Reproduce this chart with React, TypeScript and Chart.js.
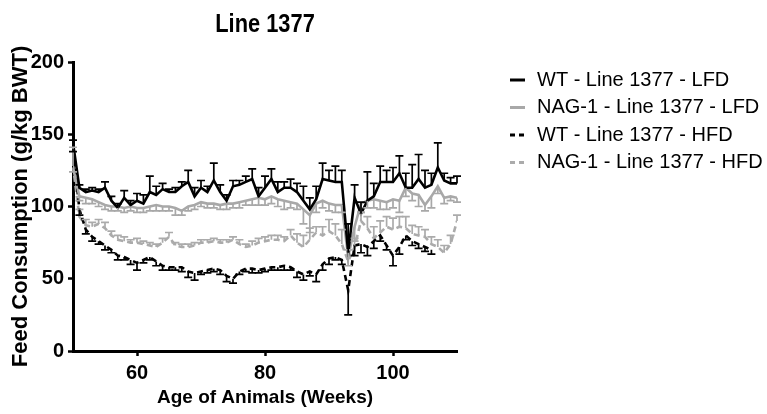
import React, { useEffect, useRef } from "react";
import { Chart, registerables } from "chart.js";

Chart.register(...registerables);

const FONT = "'Liberation Sans', Arial, Helvetica, sans-serif";

const chartTitle = "Line 1377";
const xAxisTitle = "Age of Animals (Weeks)";
const yAxisTitle = "Feed Consumption (g/kg BWT)";

const weeks = [
  50, 51, 52, 53, 54, 55, 56, 57, 58, 59,
  60, 61, 62, 63, 64, 65, 66, 67, 68, 69,
  70, 71, 72, 73, 74, 75, 76, 77, 78, 79,
  80, 81, 82, 83, 84, 85, 86, 87, 88, 89,
  90, 91, 92, 93, 94, 95, 96, 97, 98, 99,
  100, 101, 102, 103, 104, 105, 106, 107, 108, 109,
  110,
];

const xTicks = [60, 80, 100];
const yTicks = [0, 50, 100, 150, 200];

const seriesLabels = [
  "WT - Line 1377 - LFD",
  "NAG-1 - Line 1377 - LFD",
  "WT - Line 1377 - HFD",
  "NAG-1 - Line 1377 - HFD",
];

// WT - LFD (black solid), error bars upward
const wtLfd = [
  144, 113, 110, 111, 110, 113, 104, 99, 106, 101,
  104, 102, 110, 108, 112, 110, 110, 114, 117, 107,
  113, 110, 118, 110, 104, 114, 115, 117, 119, 107,
  113, 119, 110, 113, 113, 110, 104, 98, 105, 119,
  118, 117, 117, 68, 106, 95, 104, 107, 117, 117,
  117, 123, 113, 113, 119, 113, 115, 127, 118, 116,
  116,
];
const wtLfdErr = [
  2, 2, 2, 2, 2, 4, 3, 3, 5, 3,
  5, 6, 11, 6, 4, 2, 3, 3, 8, 6,
  5, 4, 12, 5, 4, 4, 3, 4, 7, 6,
  8, 7, 7, 4, 6, 6, 10, 8, 9, 11,
  7, 11, 8, 20, 9, 8, 20, 9, 11, 8,
  10, 12, 10, 16, 17, 12, 8, 17, 5, 4,
  5,
];

// NAG-1 - LFD (gray solid), error bars downward
const nagLfd = [
  127, 107, 106, 105, 103, 101, 100, 100, 99, 100,
  99, 99, 100, 101, 100, 100, 99, 97, 100, 101,
  103, 102, 102, 101, 102, 102, 103, 104, 105, 106,
  105, 107, 105, 104, 103, 102, 98, 94, 102, 104,
  102, 101, 101, 65, 86, 102, 104, 105, 104, 103,
  105, 104, 113, 109, 108, 101, 107, 114, 106, 107,
  106,
];
const nagLfdErr = [
  3, 3, 4, 3, 3, 3, 3, 3, 3, 3,
  3, 3, 3, 4, 3, 3, 5, 3, 3, 3,
  3, 3, 3, 3, 4, 3, 4, 3, 4, 5,
  4, 5, 5, 6, 4, 4, 10, 12, 6, 5,
  5, 5, 5, 6, 10, 6, 5, 6, 6, 5,
  6, 8, 6, 5, 8, 4, 8, 5, 4, 3,
  3,
];

// WT - HFD (black dashed), error bars downward
const wtHfd = [
  140, 98, 84, 79, 76, 73, 70, 66, 65, 63,
  61, 63, 65, 62, 59, 58, 58, 58, 55, 54,
  55, 56, 57, 56, 52, 50, 55, 57, 57, 56,
  57, 58, 58, 59, 58, 55, 53, 55, 53, 60,
  64, 65, 63, 42, 73, 74, 72, 76, 80, 73,
  66, 72, 80, 76, 74, 72, 70, null, null, null,
  null,
];
const wtHfdErr = [
  2, 4, 3, 3, 2, 3, 2, 3, 2, 3,
  5, 2, 2, 3, 3, 2, 2, 3, 4, 5,
  2, 2, 2, 3, 4, 3, 2, 2, 3, 2,
  2, 2, 2, 3, 2, 4, 4, 3, 5, 4,
  4, 2, 3, 17, 7, 6, 6, 5, 4, 3,
  7, 5, 3, 3, 3, 3, 3, null, null, null,
  null,
];

// NAG-1 - HFD (gray dashed), error bars upward
const nagHfd = [
  128, 93, 87, 86, 88, 85, 80, 77, 76, 75,
  75, 74, 73, 72, 75, 79, 73, 72, 72, 73,
  75, 75, 76, 75, 75, 77, 74, 72, 73, 75,
  76, 77, 77, 76, 80, 75, 72, 77, 82, 80,
  83, 80, 74, 62, 72, 90, 85, 78, 82, 86,
  84, 86, 85, 81, 80, 79, 74, 72, 68, 74,
  90,
];
const nagHfdErr = [
  13, 5, 4, 3, 3, 4, 3, 3, 3, 2,
  3, 2, 2, 2, 3, 3, 2, 2, 2, 2,
  2, 2, 2, 2, 2, 2, 3, 2, 3, 3,
  3, 3, 3, 3, 4, 6, 8, 8, 4, 6,
  8, 8, 10, 8, 6, 6, 8, 8, 8, 7,
  8, 7, 8, 6, 6, 5, 5, 5, 5, 6,
  4,
];

const seriesValues = [wtLfd, nagLfd, wtHfd, nagHfd];
const seriesErrors = [wtLfdErr, nagLfdErr, wtHfdErr, nagHfdErr];
const errorDirections = [1, -1, -1, 1];
const seriesColors = ["#000000", "#a8a8a8", "#000000", "#ababab"];
const seriesDashes: number[][] = [[], [], [6, 4], [6, 4]];
const seriesWidths = [2.6, 2.6, 2.6, 2.6];

const errorBarPlugin = {
  id: "errorBars",
  afterDatasetsDraw(chart: any) {
    const ctx = chart.ctx;
    const yScale = chart.scales.y;
    for (let i = seriesValues.length - 1; i >= 0; i--) {
      const meta = chart.getDatasetMeta(i);
      const vals = seriesValues[i];
      const errs = seriesErrors[i];
      const dir = errorDirections[i];
      ctx.save();
      ctx.strokeStyle = seriesColors[i];
      ctx.lineWidth = 1.7;
      ctx.setLineDash([]);
      meta.data.forEach((pt: any, j: number) => {
        const v = vals[j];
        const e = errs[j];
        if (v == null || e == null) return;
        const x = pt.x;
        const y0 = yScale.getPixelForValue(v);
        const y1 = yScale.getPixelForValue(v + dir * e);
        ctx.beginPath();
        ctx.moveTo(x, y0);
        ctx.lineTo(x, y1);
        ctx.moveTo(x - 4, y1);
        ctx.lineTo(x + 4, y1);
        ctx.stroke();
      });
      ctx.restore();
    }
  },
};

const titleLegendPlugin = {
  id: "titleLegend",
  afterDraw(chart: any) {
    const ctx = chart.ctx;
    const area = chart.chartArea;
    ctx.save();
    // Title
    ctx.fillStyle = "#000";
    ctx.font = `bold 26px ${FONT}`;
    ctx.textAlign = "center";
    ctx.textBaseline = "alphabetic";
    ctx.translate((area.left + area.right) / 2, 32);
    ctx.scale(0.84, 1);
    ctx.fillText(chartTitle, 0, 0);
    ctx.restore();

    // Legend
    ctx.save();
    const rowY = [80, 107.5, 135, 162.5];
    ctx.font = `20px ${FONT}`;
    ctx.textAlign = "left";
    ctx.textBaseline = "middle";
    seriesLabels.forEach((label, i) => {
      const y = rowY[i];
      ctx.strokeStyle = seriesColors[i];
      ctx.lineWidth = 3;
      ctx.setLineDash(seriesDashes[i].length ? [5, 4] : []);
      ctx.beginPath();
      ctx.moveTo(510, y);
      ctx.lineTo(525, y);
      ctx.stroke();
      ctx.setLineDash([]);
      ctx.fillStyle = "#000";
      ctx.fillText(label, 537, y);
    });
    ctx.restore();
  },
};

export default function App() {
  const canvasRef = useRef<HTMLCanvasElement | null>(null);

  useEffect(() => {
    if (!canvasRef.current) return;
    const datasets = seriesValues.map((vals, i) => ({
      label: seriesLabels[i],
      data: weeks.map((w, j) => ({ x: w, y: vals[j] })),
      borderColor: seriesColors[i],
      backgroundColor: seriesColors[i],
      borderWidth: seriesWidths[i],
      borderDash: seriesDashes[i],
      pointRadius: 0,
      pointHoverRadius: 0,
      tension: 0,
      fill: false,
      spanGaps: false,
      order: i,
    }));

    const chart = new Chart(canvasRef.current, {
      type: "line",
      data: { datasets },
      options: {
        responsive: false,
        animation: false,
        devicePixelRatio: 1,
        events: [],
        layout: { padding: { top: 62, right: 310, bottom: 0, left: 0 } },
        plugins: {
          legend: { display: false },
          title: { display: false },
          tooltip: { enabled: false },
        },
        scales: {
          x: {
            type: "linear",
            min: 50,
            max: 110,
            afterBuildTicks: (scale: any) => {
              scale.ticks = xTicks.map((v) => ({ value: v }));
            },
            afterFit: (scale: any) => {
              scale.height = 63;
            },
            border: { display: true, color: "#000", width: 3 },
            grid: {
              display: true,
              drawOnChartArea: false,
              drawTicks: true,
              tickLength: 5,
              tickWidth: 2.5,
              tickColor: "#000",
            },
            ticks: {
              color: "#000",
              padding: 5,
              maxRotation: 0,
              font: { family: FONT, size: 20, weight: "bold" },
            },
            title: {
              display: true,
              text: xAxisTitle,
              color: "#000",
              padding: { top: 0, bottom: 5 },
              font: { family: FONT, size: 19, weight: "bold" },
            },
          },
          y: {
            type: "linear",
            min: 0,
            max: 200,
            afterBuildTicks: (scale: any) => {
              scale.ticks = yTicks.map((v) => ({ value: v }));
            },
            afterFit: (scale: any) => {
              scale.width = 73;
            },
            border: { display: true, color: "#000", width: 3 },
            grid: {
              display: true,
              drawOnChartArea: false,
              drawTicks: true,
              tickLength: 5,
              tickWidth: 2.5,
              tickColor: "#000",
            },
            ticks: {
              color: "#000",
              padding: 4,
              font: { family: FONT, size: 20, weight: "bold" },
            },
            title: {
              display: true,
              text: yAxisTitle,
              color: "#000",
              padding: { top: 8, bottom: 0 },
              font: { family: FONT, size: 22, weight: "bold" },
            },
          },
        },
      },
      plugins: [errorBarPlugin, titleLegendPlugin],
    } as any);

    return () => {
      chart.destroy();
    };
  }, []);

  return (
    <div style={{ position: "absolute", left: 0, top: 0, width: 767, height: 414, background: "#fff" }}>
      <canvas ref={canvasRef} width={767} height={414} style={{ width: 767, height: 414, display: "block" }} />
    </div>
  );
}
